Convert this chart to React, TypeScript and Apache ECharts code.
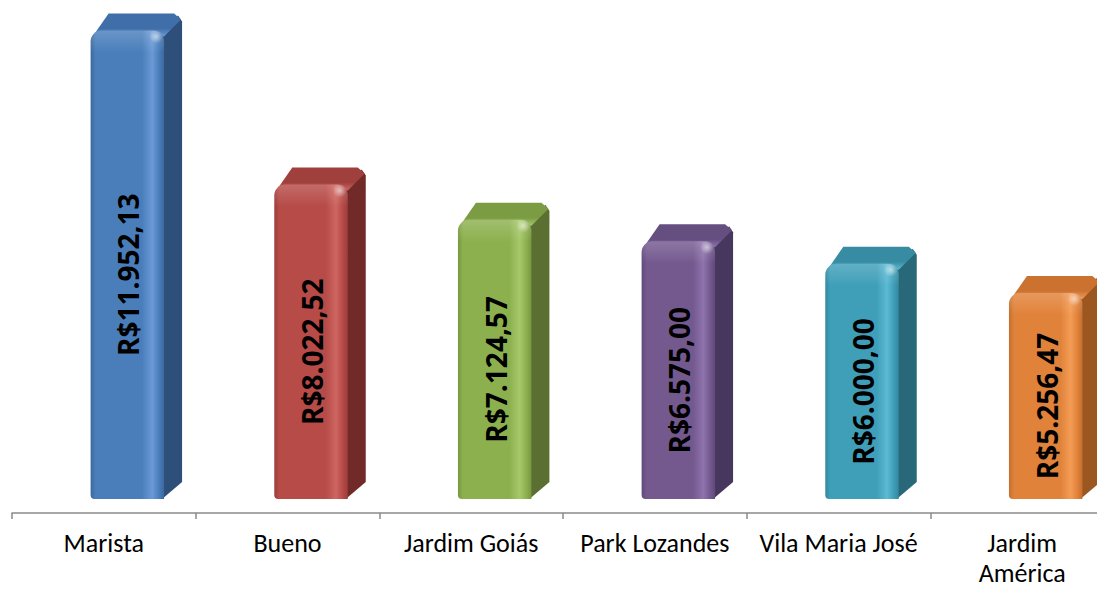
import React, { useEffect, useRef } from "react";
import * as echarts from "echarts";

const categories = [
  "Marista",
  "Bueno",
  "Jardim Goiás",
  "Park Lozandes",
  "Vila Maria José",
  "Jardim América",
];
const values = [11952.13, 8022.52, 7124.57, 6575.0, 6000.0, 5256.47];

// front, light stripe, side, top
const palette = [
  { front: "#4a7ebb", light: "#6b9ad6", dark: "#3b689e", side: "#2d4f7a", top: "#3f6ea8" },
  { front: "#b64b48", light: "#cf6662", dark: "#9c3d3a", side: "#722a28", top: "#a0403d" },
  { front: "#8db04f", light: "#a6c86a", dark: "#779840", side: "#5a6f31", top: "#7c9c43" },
  { front: "#74598f", light: "#8f73ad", dark: "#614a7a", side: "#47365e", top: "#654e80" },
  { front: "#3f9fb9", light: "#5cbad3", dark: "#33879e", side: "#296879", top: "#378ca3" },
  { front: "#e1823a", light: "#f39c55", dark: "#c46f2f", side: "#9c5721", top: "#cb7231" },
];

function formatBRL(v: number): string {
  const [intPart, dec] = v.toFixed(2).split(".");
  const withDots = intPart.replace(/\B(?=(\d{3})+(?!\d))/g, ".");
  return "R$" + withDots + "," + dec;
}

export default function App() {
  const ref = useRef<HTMLDivElement>(null);

  useEffect(() => {
    if (!ref.current) return;
    const chart = echarts.init(ref.current, null, { renderer: "svg" });

    const renderItem = (params: any, api: any) => {
      const idx = params.dataIndex;
      const i = api.value(0);
      const v = api.value(1);
      const topPt = api.coord([i, v]);
      const basePt = api.coord([i, 0]);
      const bw = api.size([1, 0])[0];
      const W = bw * 0.4;
      const L = topPt[0] - bw * 0.072;
      const R = L + W;
      const T = topPt[1];
      const B = basePt[1];
      const dx = 18;
      const dy = 17;
      const c = palette[idx % palette.length];

      const frontGrad = new echarts.graphic.LinearGradient(0, 0, 1, 0, [
        { offset: 0, color: c.dark },
        { offset: 0.07, color: c.front },
        { offset: 0.7, color: c.front },
        { offset: 0.84, color: c.light },
        { offset: 0.93, color: c.front },
        { offset: 1, color: c.dark },
      ]);
      const topGrad = new echarts.graphic.LinearGradient(0, 1, 0, 0, [
        { offset: 0, color: c.light },
        { offset: 0.35, color: c.top },
        { offset: 1, color: c.top },
      ]);

      return {
        type: "group",
        children: [
          {
            type: "polygon",
            shape: {
              points: [
                [R - 2, B],
                [R - 2, T + 4],
                [R + dx - 4, T - dy + 2],
                [R + dx, T - dy + 8],
                [R + dx, B - dy],
              ],
            },
            style: { fill: c.side },
          },
          {
            type: "polygon",
            shape: {
              points: [
                [L + 2, T + 6],
                [L + dx, T - dy],
                [R + dx - 8, T - dy],
                [R + dx - 1, T - dy + 6],
                [R, T + 6],
              ],
            },
            style: { fill: topGrad },
          },
          {
            type: "rect",
            shape: { x: L, y: T, width: W, height: B - T, r: [11, 11, 0, 4] },
            style: { fill: frontGrad },
          },
          {
            type: "rect",
            shape: { x: L, y: T, width: W, height: 22, r: [11, 11, 0, 0] },
            style: {
              fill: new echarts.graphic.LinearGradient(0, 0, 0, 1, [
                { offset: 0, color: "rgba(255,255,255,0.18)" },
                { offset: 1, color: "rgba(255,255,255,0)" },
              ]),
            },
          },
          {
            type: "circle",
            shape: { cx: R - 8, cy: T + 6, r: 7 },
            style: {
              fill: new echarts.graphic.RadialGradient(0.5, 0.5, 0.5, [
                { offset: 0, color: "rgba(255,255,255,0.55)" },
                { offset: 1, color: "rgba(255,255,255,0)" },
              ]),
            },
          },
          {
            type: "text",
            x: L + W / 2 + 1,
            y: (T + B) / 2 + 10,
            rotation: Math.PI / 2,
            style: {
              text: formatBRL(v),
              font: 'bold 28px "Open Sans", sans-serif',
              fill: "#000",
              align: "center",
              verticalAlign: "middle",
            },
          },
        ],
      };
    };

    chart.setOption({
      animation: false,
      grid: {
        left: 12,
        right: -17,
        top: 0,
        bottom: 77,
        containLabel: false,
        outerBoundsMode: "none",
      },
      xAxis: {
        type: "category",
        data: categories,
        boundaryGap: true,
        axisLine: { show: true, onZero: false, lineStyle: { color: "#8a8a8a", width: 1.5 } },
        axisTick: { show: true, length: 6, lineStyle: { color: "#8a8a8a", width: 1.5 } },
        axisLabel: {
          color: "#000",
          fontSize: 26,
          fontFamily: "Carlito, Calibri, Lato, sans-serif",
          lineHeight: 30,
          margin: 15,
          interval: 0,
          hideOverlap: false,
          formatter: (s: string) => (s === "Jardim América" ? "Jardim\nAmérica" : s),
        },
        splitLine: { show: false },
      },
      yAxis: {
        type: "value",
        min: -357,
        max: 12730,
        show: false,
        splitLine: { show: false },
      },
      series: [
        {
          type: "custom",
          renderItem,
          encode: { x: 0, y: 1 },
          data: values.map((v, i) => [i, v]),
          clip: false,
        },
      ],
    });

    return () => chart.dispose();
  }, []);

  return (
    <div
      ref={ref}
      style={{ position: "fixed", left: 0, top: 0, width: 1097, height: 590, background: "#fff" }}
    />
  );
}
